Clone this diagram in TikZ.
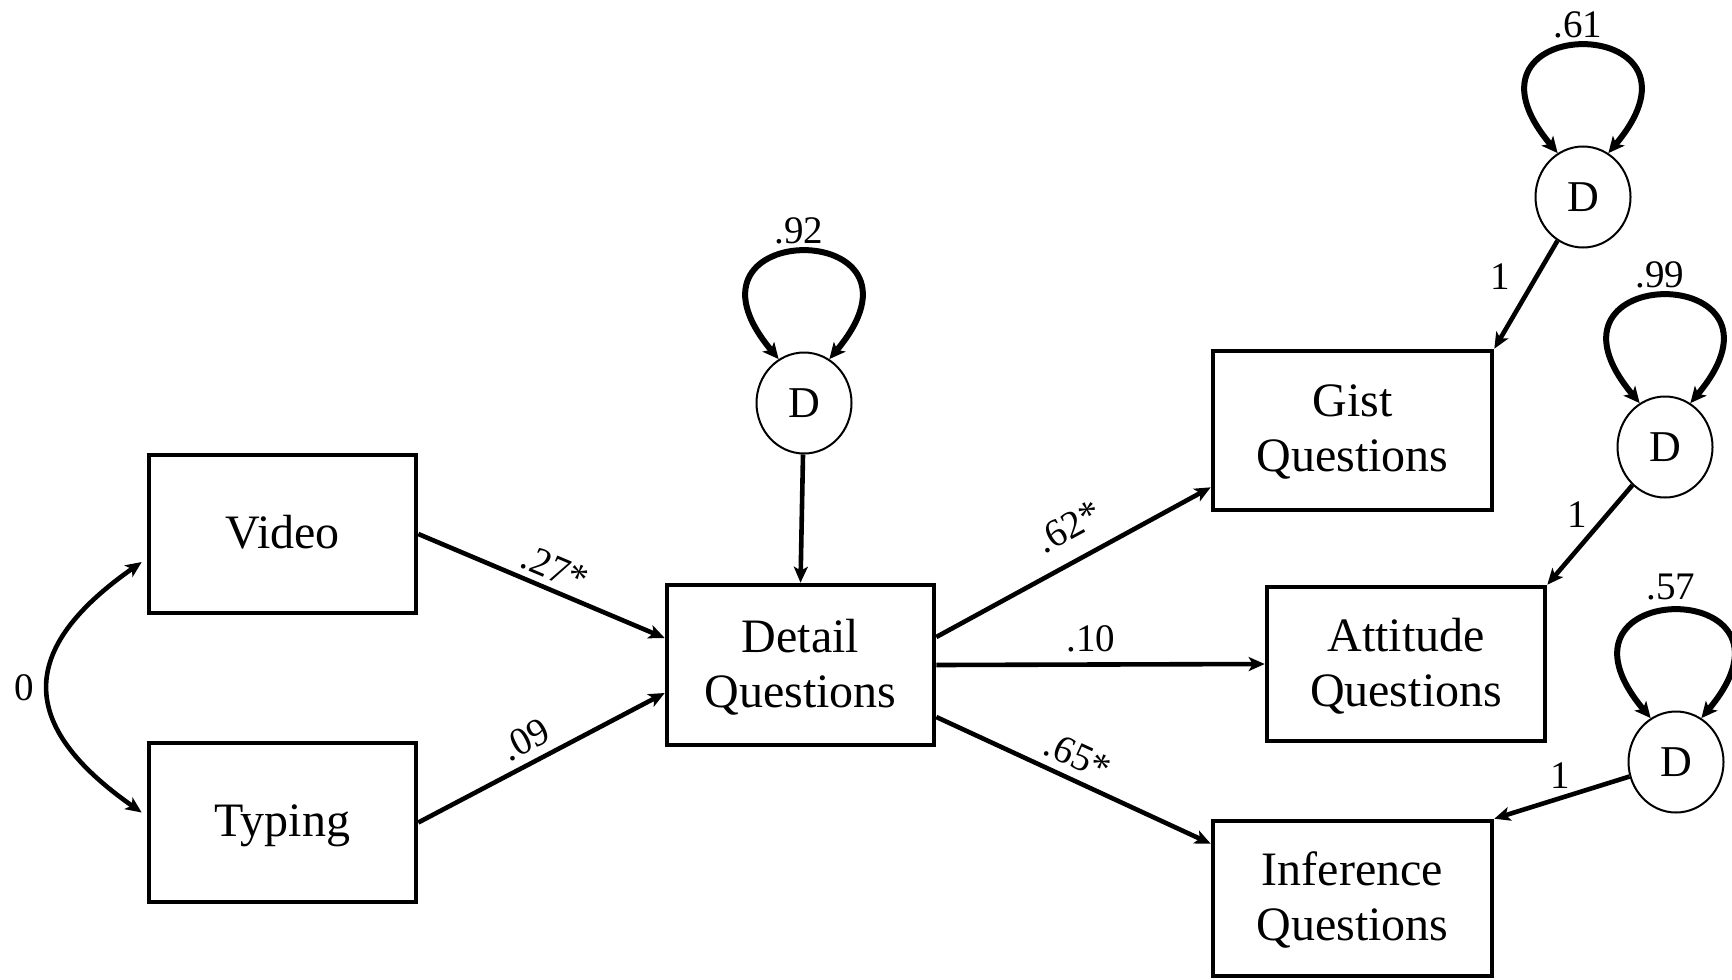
\documentclass[tikz,border=0pt]{standalone}
\usepackage{fontspec}
\setmainfont{Liberation Serif}
\usetikzlibrary{arrows.meta,calc,shapes.geometric}

\begin{document}
\begin{tikzpicture}[x=0.5pt,y=0.5pt,
  box/.style={draw, line width=2.3pt, align=center, inner sep=0pt, text depth=2pt,
    font=\fontsize{24}{27.5}\selectfont},
  dist/.style={ellipse, draw, line width=1pt, minimum width=47.5pt,
    minimum height=50.5pt, inner sep=0pt, font=\fontsize{22}{24}\selectfont},
  effect/.style={line width=2.3pt, -{Stealth[length=8pt,width=7pt,inset=2pt]}},
  cov/.style={line width=2.3pt,
    {Stealth[length=8pt,width=7pt,inset=2pt]}-{Stealth[length=8pt,width=7pt,inset=2pt]}},
  var/.style={line width=3pt,
    {Stealth[length=8pt,width=7.5pt,inset=2pt]}-{Stealth[length=8pt,width=7.5pt,inset=2pt]}},
  lbl/.style={inner sep=0pt, font=\fontsize{19.5}{22}\selectfont},
  varlbl/.style={lbl, pos=0.5, above=2.5pt, xshift=-2.5pt},
]
\useasboundingbox (0,0) rectangle (1732,-979);

% observed variables
\node[box, minimum width=133.5pt, minimum height=79pt]   (Video)     at (282.5,-534)  {Video};
\node[box, minimum width=133.5pt, minimum height=79.5pt] (Typing)    at (282.5,-822.5){Typing};
\node[box, minimum width=133.5pt, minimum height=80pt]   (Detail)    at (800.5,-665)  {Detail\\Questions};
\node[box, minimum width=139.5pt, minimum height=79.5pt] (Gist)      at (1352.5,-430.5){Gist\\Questions};
\node[box, minimum width=139pt,   minimum height=77pt]   (Attitude)  at (1406,-664)   {Attitude\\Questions};
\node[box, minimum width=139.5pt, minimum height=77.5pt] (Inference) at (1352.5,-898.5){Inference\\Questions};

% disturbances
\node[dist] (D1) at (804,-403)  {D};
\node[dist] (DG) at (1583,-197) {D};
\node[dist] (DA) at (1665,-447) {D};
\node[dist] (DI) at (1676,-762) {D};

% disturbance variances
\draw[var] (D1.120) .. controls +(130:186) and +(50:186) .. (D1.60) node[varlbl] {.92};
\draw[var] (DG.120) .. controls +(130:186) and +(50:186) .. (DG.60) node[varlbl] {.61};
\draw[var] (DA.120) .. controls +(130:186) and +(50:186) .. (DA.60) node[varlbl] {.99};
\draw[var] (DI.120) .. controls +(130:186) and +(50:186) .. (DI.60) node[varlbl, above=1.5pt] {.57};

% covariance of the predictors
\draw[cov] ($(Video.west)+(-5,-28)$) .. controls +(215:152) and +(145:152) .. ($(Typing.west)+(-5,10)$)
  node[lbl, pos=0.5, left=6pt] {0};

% paths
\draw[effect] (Video.east) -- ($(Detail.west)+(0,27)$)
  node[lbl, sloped, above=3pt, pos=0.52] {.27*};
\draw[effect] (Typing.east) -- ($(Detail.west)+(0,-28)$)
  node[lbl, sloped, above=4pt, pos=0.48] {.09};
\draw[effect] ($(Detail.east)+(0,28)$) -- ($(Gist.south west)+(0,25)$)
  node[lbl, sloped, above=9pt, pos=0.54] {.62*};
\draw[effect] (Detail.east) -- (Attitude.west)
  node[lbl, above=5pt, pos=0.47] {.10};
\draw[effect] ($(Detail.east)+(0,-52)$) -- ($(Inference.north west)+(0,-25)$)
  node[lbl, sloped, above=4pt, pos=0.48] {.65*};

% disturbance paths
\draw[effect] (D1) -- (Detail.north);
\draw[effect] (DG) -- (Gist.north east)
  node[lbl, pos=0.33, left=12pt] {1};
\draw[effect] (DA) -- (Attitude.north east)
  node[lbl, pos=0.3, left=9pt] {1};
\draw[effect] (DI) -- (Inference.north east)
  node[lbl, pos=0.51, above=3.5pt] {1};
\end{tikzpicture}
\end{document}
